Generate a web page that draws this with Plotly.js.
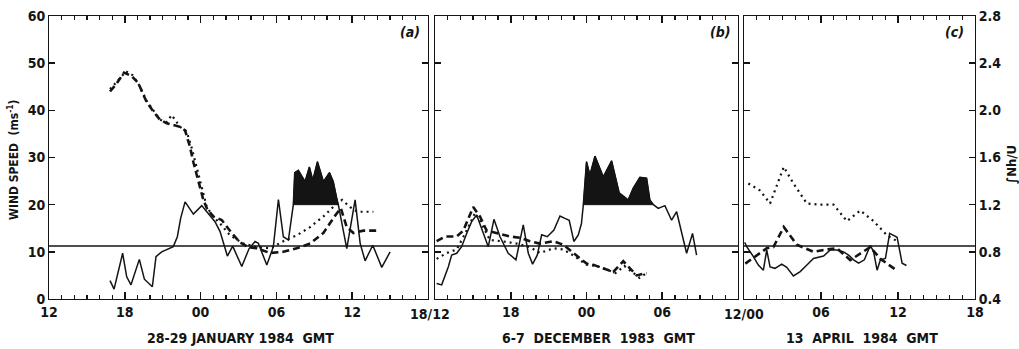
<!DOCTYPE html>
<html><head><meta charset="utf-8">
<script src="https://cdn.plot.ly/plotly-3.0.1.min.js"></script>
<style>html,body{margin:0;padding:0;background:#fff}</style>
</head><body><div id="chart" style="width:1019px;height:349px"></div>
<script>
// ---------- DATA ----------
// Hours are counted from the left edge of each panel.
// Panel (a): 28-29 January 1984, starts 12 GMT
const a_speed_t = [4.83,5.15,5.83,6.15,6.49,7.15,7.55,8.18,8.47,8.92,9.84,10.16,10.42,10.77,11.43,12.09,12.49,13.14,13.54,14.12,14.54,15.26,15.84,16.31,16.57,17.24,17.76,18.16,18.55,18.95,19.34,19.45,19.74,20.27,20.61,20.88,21.25,21.72,22.2,22.5,22.78,22.9,23.57,24.23,24.63,25.02,25.63,26.34,27.0];
const a_speed_v = [3.9,2.1,9.7,4.7,3.0,8.4,4.2,2.6,9.0,10.0,11.1,13.2,17.1,20.6,18.0,19.8,18.5,16.4,14.3,9.1,11.2,6.9,10.7,12.2,11.8,7.2,11.1,21.1,13.2,12.5,20.0,26.8,27.3,24.9,28.0,25.2,29.1,24.9,26.8,24.9,21.3,20.0,10.7,21.0,11.8,8.1,11.4,6.7,10.0];
const a_dash_t = [4.83,5.3,5.94,6.55,7.07,7.73,8.26,8.79,9.32,10.37,10.77,11.16,11.43,11.69,11.96,12.22,12.49,13.0,13.67,14.46,15.12,15.78,16.45,17.5,18.55,19.61,20.67,21.72,22.6,23.1,23.57,24.1,24.89,26.07];
const a_dash_n = [2.16,2.22,2.32,2.29,2.23,2.07,1.99,1.92,1.89,1.86,1.83,1.69,1.56,1.46,1.35,1.24,1.17,1.10,1.07,0.96,0.88,0.84,0.83,0.79,0.80,0.83,0.87,0.96,1.10,1.17,1.01,0.96,0.98,0.98];
const a_dot_t = [4.83,5.5,6.1,6.6,7.1,7.73,8.26,8.79,9.32,9.71,10.37,10.9,11.3,11.6,11.9,12.2,12.49,13.0,13.54,14.33,15.38,16.45,17.5,18.55,19.61,20.67,21.72,22.78,23.2,23.83,24.4,25.68];
const a_dot_n = [2.18,2.26,2.33,2.30,2.22,2.08,2.00,1.92,1.90,1.96,1.86,1.82,1.68,1.56,1.44,1.30,1.18,1.10,1.04,0.94,0.87,0.84,0.83,0.89,0.94,1.01,1.10,1.21,1.24,1.18,1.14,1.14];

// Panel (b): 6-7 December 1983, starts 12 GMT
const b_speed_t = [0.13,0.53,1.05,1.32,1.72,2.11,2.51,2.9,3.3,3.7,4.22,4.67,5.15,5.8,6.41,6.99,7.39,7.73,8.1,8.45,8.89,9.42,9.9,10.29,10.63,11.0,11.35,11.6,11.75,12.0,12.27,12.67,13.33,13.99,14.59,15.3,15.7,16.23,16.76,17.02,17.3,17.68,18.21,18.74,19.14,19.93,20.4,20.72];
const b_speed_v = [3.3,3.0,6.8,9.3,9.7,11.1,13.9,16.4,17.8,15.0,11.1,16.9,13.2,9.7,8.3,15.7,9.7,7.4,9.3,13.6,13.2,14.6,17.6,17.1,16.7,12.2,13.6,16.0,20.0,29.1,26.3,30.3,25.9,29.3,22.5,21.0,23.5,25.8,25.6,21.0,20.0,19.2,19.8,16.7,18.5,9.7,13.9,9.3];
const b_dash_t = [0.13,0.79,1.72,2.24,3.03,3.56,4.09,4.89,5.94,6.73,7.52,8.31,9.37,10.16,10.95,12.01,12.53,13.33,14.12,14.91,15.44,15.97,16.76];
const b_dash_n = [0.89,0.93,0.93,0.98,1.18,1.10,0.98,0.96,0.93,0.92,0.89,0.87,0.89,0.86,0.79,0.70,0.69,0.66,0.63,0.72,0.66,0.60,0.62];
const b_dot_t = [0.13,0.93,1.72,2.51,3.17,3.83,4.35,5.3,6.47,7.52,8.31,9.37,10.16,10.95,12.01,12.8,13.6,14.3,15.0,15.6,16.2,16.9];
const b_dot_n = [0.74,0.79,0.82,0.98,1.13,1.01,0.90,0.89,0.87,0.84,0.79,0.83,0.82,0.77,0.69,0.68,0.65,0.62,0.68,0.63,0.58,0.63];

// Panel (c): 13 April 1984, starts 00 GMT
const c_speed_t = [0.05,0.21,0.73,1.12,1.51,1.77,2.03,2.42,2.94,3.33,3.85,4.38,4.9,5.41,6.2,6.72,7.24,7.76,8.15,8.54,8.93,9.38,9.84,10.1,10.37,10.63,11.02,11.35,11.93,12.32,12.66];
const c_speed_v = [12.0,11.1,9.0,7.2,6.1,10.4,6.8,6.5,7.4,6.7,4.9,5.8,7.2,8.6,9.1,10.4,10.4,10.0,9.3,8.3,7.6,8.3,11.4,10.0,6.1,8.3,8.6,13.9,13.1,7.6,7.1];
const c_dash_t = [0.1,0.9,1.77,2.29,3.1,4.12,5.41,6.46,7.24,8.28,9.32,9.84,10.63,11.93];
const c_dash_n = [0.70,0.76,0.83,0.84,1.01,0.86,0.80,0.82,0.83,0.73,0.80,0.84,0.74,0.64];
const c_dot_t = [0.34,1.25,2.03,3.1,3.85,4.9,5.94,6.98,8.02,9.06,10.1,11.15,11.93];
const c_dot_n = [1.38,1.32,1.21,1.52,1.38,1.21,1.20,1.20,1.06,1.15,1.06,0.94,0.89];

// shaded (wind speed above 20 m/s) windows, hours
const a_shade = [19.3, 23.0];
const b_shade = [11.7, 17.4];
const shadeBase = 20;
const criticalNhU = 0.85;

const panelHours = [30, 24, 18];
const a_ticktext = ['12','18','00','06','12',''];
const b_ticktext = ['','18','00','06',''];
const c_ticktext = ['','06','12','18'];
const dateLabels = ['28-29 JANUARY 1984  GMT', '6-7  DECEMBER  1983  GMT', '13  APRIL  1984  GMT'];
const joinLabels = ['18/12', '12/00'];
const nhuTicks = ['0.4','0.8','1.2','1.6','2.0','2.4','2.8'];

// ---------- PLOT ----------
const FONT = '"DejaVu Sans Condensed", "Liberation Sans Narrow", "Arial Narrow", sans-serif';
const INK = '#141414';

function shade(t, v, win, xa, ya) {
  const xs = [], ys = [];
  for (let i = 0; i < t.length; i++) {
    if (t[i] >= win[0] && t[i] <= win[1]) { xs.push(t[i]); ys.push(Math.max(v[i], shadeBase)); }
  }
  const px = xs.concat([xs[xs.length-1], xs[0]]);
  const py = ys.concat([shadeBase, shadeBase]);
  return {x: px, y: py, xaxis: xa, yaxis: ya, mode: 'lines', fill: 'toself', fillcolor: INK,
          line: {color: INK, width: 1}, hoverinfo: 'skip', showlegend: false};
}
function solid(t, v, xa, ya) {
  return {x: t, y: v, xaxis: xa, yaxis: ya, mode: 'lines', line: {color: INK, width: 1.5}, showlegend: false};
}
function dashed(t, v, xa, ya) {
  return {x: t, y: v, xaxis: xa, yaxis: ya, mode: 'lines', line: {color: INK, width: 2.6, dash: '7px,4px'}, showlegend: false};
}
function dotted(t, v, xa, ya) {
  return {x: t, y: v, xaxis: xa, yaxis: ya, mode: 'lines', line: {color: INK, width: 2.2, dash: '2px,4px'}, showlegend: false};
}
function crit(hours, xa, ya) {
  return {x: [0, hours], y: [criticalNhU, criticalNhU], xaxis: xa, yaxis: ya, mode: 'lines', line: {color: INK, width: 1.6}, showlegend: false};
}

const traces = [
  shade(a_speed_t, a_speed_v, a_shade, 'x', 'y'),
  shade(b_speed_t, b_speed_v, b_shade, 'x2', 'y2'),
  crit(panelHours[0], 'x', 'y4'), crit(panelHours[1], 'x2', 'y5'), crit(panelHours[2], 'x3', 'y6'),
  solid(a_speed_t, a_speed_v, 'x', 'y'),
  dashed(a_dash_t, a_dash_n, 'x', 'y4'),
  dotted(a_dot_t, a_dot_n, 'x', 'y4'),
  solid(b_speed_t, b_speed_v, 'x2', 'y2'),
  dashed(b_dash_t, b_dash_n, 'x2', 'y5'),
  dotted(b_dot_t, b_dot_n, 'x2', 'y5'),
  solid(c_speed_t, c_speed_v, 'x3', 'y3'),
  dashed(c_dash_t, c_dash_n, 'x3', 'y6'),
  dotted(c_dot_t, c_dot_n, 'x3', 'y6')
];

const L = 49, R = 975, T = 16, B = 299, W = 1019, H = 349;
const px = p => (p - L) / (R - L);
const py = p => (B - p) / (B - T);

function xax(d0, d1, hours, anchor, tt) {
  const tv = []; for (let h = 0; h <= hours; h += 6) tv.push(h);
  return {domain: [px(d0), px(d1)], range: [0, hours], anchor: anchor,
    showline: true, linecolor: INK, linewidth: 1, mirror: 'ticks',
    ticks: 'inside', ticklen: 7, tickwidth: 1.6, tickcolor: INK,
    tickmode: 'array', tickvals: tv, ticktext: tt,
    tickfont: {family: FONT, size: 14, weight: 'bold', color: INK},
    minor: {tickmode: 'linear', tick0: 0, dtick: 1, ticks: 'inside', ticklen: 4, tickwidth: 1.3, tickcolor: INK},
    showgrid: false, zeroline: false, fixedrange: true};
}
function yax(anchor, labels) {
  return {domain: [0, 1], range: [0, 60], anchor: anchor, tickmode: 'linear', tick0: 0, dtick: 10,
    showline: true, linecolor: INK, linewidth: 1, mirror: 'ticks',
    ticks: 'inside', ticklen: 6, tickwidth: 1.6, tickcolor: INK, showticklabels: labels,
    tickfont: {family: FONT, size: 14, weight: 'bold', color: INK},
    showgrid: false, zeroline: false, fixedrange: true};
}
function ann(text, x, y, size, extra) {
  return Object.assign({text: text, x: px(x), y: py(y), xref: 'paper', yref: 'paper', xanchor: 'center', yanchor: 'middle',
    showarrow: false, font: {family: FONT, size: size, weight: 'bold', color: INK}}, extra || {});
}
const italic = {family: FONT, size: 14, weight: 'bold', style: 'italic', color: INK};

const layout = {
  width: W, height: H,
  margin: {l: L, r: W - R, t: T, b: H - B, pad: 0},
  paper_bgcolor: '#fff', plot_bgcolor: '#fff',
  showlegend: false,
  font: {family: FONT, color: INK},
  xaxis: xax(49, 428, panelHours[0], 'y', a_ticktext),
  xaxis2: xax(435, 738, panelHours[1], 'y2', b_ticktext),
  xaxis3: xax(744, 975, panelHours[2], 'y3', c_ticktext),
  yaxis: yax('x', true),
  yaxis2: yax('x2', false),
  yaxis3: yax('x3', false),
  yaxis4: {overlaying: 'y', anchor: 'x', range: [0.4, 2.8], visible: false, fixedrange: true},
  yaxis5: {overlaying: 'y2', anchor: 'x2', range: [0.4, 2.8], visible: false, fixedrange: true},
  yaxis6: {overlaying: 'y3', anchor: 'x3', side: 'right', range: [0.4, 2.8],
    tickmode: 'array', tickvals: nhuTicks.map(Number), ticktext: nhuTicks,
    showline: true, linecolor: INK, linewidth: 1, ticks: 'inside', ticklen: 6, tickwidth: 1.6, tickcolor: INK,
    tickfont: {family: FONT, size: 14, weight: 'bold', color: INK},
    showgrid: false, zeroline: false, fixedrange: true},
  annotations: [
    ann('(a)', 410, 32, 14, {font: italic}),
    ann('(b)', 720, 32, 14, {font: italic}),
    ann('(c)', 954, 32, 14, {font: italic}),
    ann(joinLabels[0], 430, 314, 14),
    ann(joinLabels[1], 744, 314, 14),
    ann(dateLabels[0], 240, 338, 14),
    ann(dateLabels[1], 598, 338, 14),
    ann(dateLabels[2], 862, 338, 14),
    ann('WIND SPEED  (ms<sup>-1</sup>)', 13, 160, 12, {textangle: -90}),
    ann('∫Nh/U', 1011, 165, 13, {textangle: -90})
  ]
};

Plotly.newPlot('chart', traces, layout, {displayModeBar: false, staticPlot: true});
</script></body></html>
